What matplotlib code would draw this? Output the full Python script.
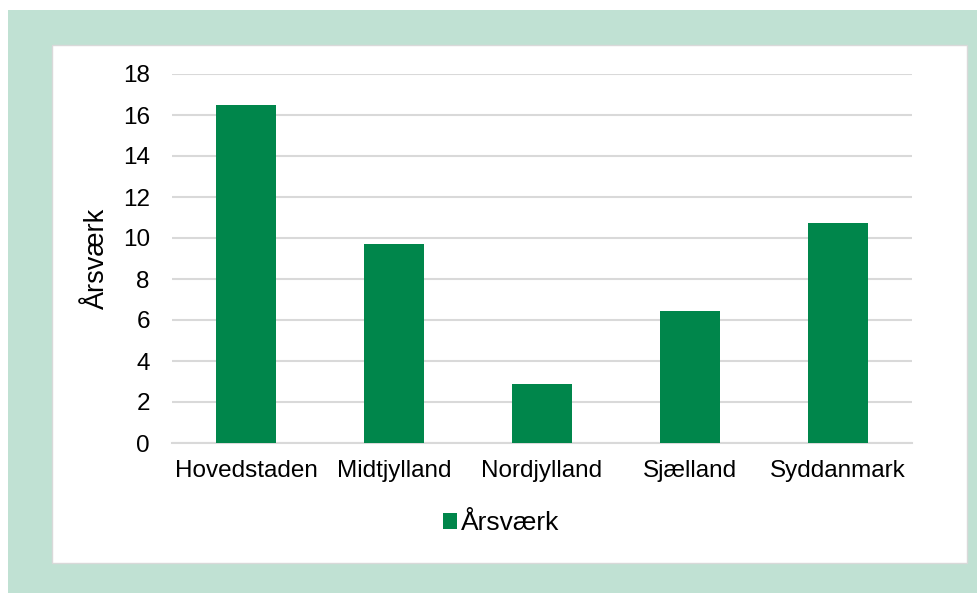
import matplotlib
matplotlib.use("Agg")
import matplotlib.pyplot as plt
from matplotlib.patches import Rectangle

regions = ["Hovedstaden", "Midtjylland", "Nordjylland", "Sjælland", "Syddanmark"]
aarsvaerk = [16.5, 9.7, 2.9, 6.45, 10.75]
y_ticks = [0, 2, 4, 6, 8, 10, 12, 14, 16, 18]

BAR_COLOR = "#00864B"
FRAME_COLOR = "#C0E1D3"
GRID_COLOR = "#D9D9D9"

plt.rcParams["font.family"] = ["Liberation Sans", "DejaVu Sans"]

W, H = 977, 593
fig = plt.figure(figsize=(W / 100, H / 100), dpi=100)
fig.patch.set_facecolor("white")

# grøn ramme og hvid flade
fig.patches.append(Rectangle((8 / W, 0), 1 - 8 / W, 1 - 10 / H,
                             transform=fig.transFigure, facecolor=FRAME_COLOR,
                             edgecolor="none", zorder=-2))
fig.patches.append(Rectangle((52 / W, (H - 563) / H), (967 - 52) / W, (563 - 45) / H,
                             transform=fig.transFigure, facecolor="white",
                             edgecolor="#D9D9D9", linewidth=1, zorder=-1))

ax = fig.add_axes([172 / W, (H - 443) / H, 740 / W, 369 / H])
ax.set_facecolor("none")
x = range(len(regions))
ax.bar(x, aarsvaerk, width=0.4, color=BAR_COLOR, label="Årsværk", zorder=3)

ax.set_xlim(-0.5, len(regions) - 0.5)
ax.set_ylim(0, 18)
ax.set_yticks(y_ticks)
ax.set_xticks(list(x))
ax.set_xticklabels(regions)
ax.tick_params(axis="both", length=0, labelsize=17.5, colors="black")
ax.tick_params(axis="x", pad=12)
ax.tick_params(axis="y", pad=16)
ax.grid(axis="y", color=GRID_COLOR, linewidth=1.5, zorder=0)
for side in ["top", "right", "left"]:
    ax.spines[side].set_visible(False)
ax.spines["bottom"].set_color(GRID_COLOR)
ax.spines["bottom"].set_linewidth(1.5)

ax.set_ylabel("Årsværk", fontsize=19.5, labelpad=9)

fig.legend(loc="center", bbox_to_anchor=(501 / W, 1 - 523 / H), frameon=False,
           fontsize=19, handlelength=0.55, handleheight=0.55, handletextpad=0.15)

fig.savefig("out.png", dpi=100)
